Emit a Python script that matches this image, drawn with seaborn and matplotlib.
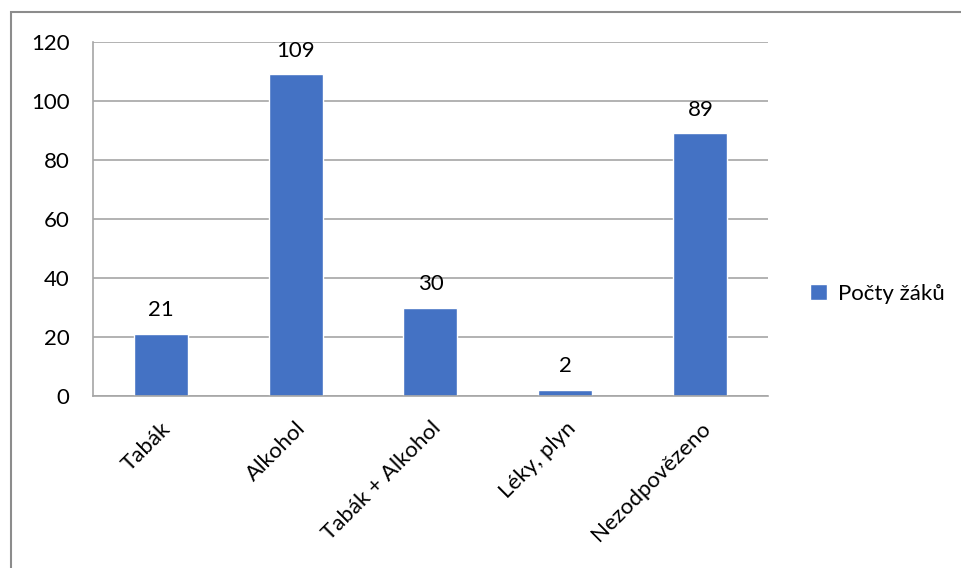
import matplotlib
matplotlib.use("Agg")
import matplotlib.pyplot as plt
import seaborn as sns
import pandas as pd
from matplotlib.patches import Rectangle

categories = ["Tabák", "Alkohol", "Tabák + Alkohol", "Léky, plyn", "Nezodpovězeno"]
counts = [21, 109, 30, 2, 89]
series_name = "Počty žáků"

df = pd.DataFrame({"kategorie": categories, "pocet": counts, "serie": series_name})

sns.set_style("white")
plt.rcParams["font.family"] = ["Lato", "DejaVu Sans"]
plt.rcParams["text.color"] = "black"
plt.rcParams["xtick.color"] = "black"
plt.rcParams["ytick.color"] = "black"

fig = plt.figure(figsize=(9.62, 5.68), dpi=100)
ax = fig.add_axes([93 / 962, 1 - 396 / 568, (768 - 93) / 962, (396 - 42) / 568])

sns.barplot(data=df, x="kategorie", y="pocet", hue="serie", palette=["#4472c4"],
            width=0.4, ax=ax, saturation=1)

grey = "#a6a6a6"
fs = 16
ax.set_ylim(0, 120)
ax.set_xlim(-0.5, len(categories) - 0.5)
ax.set_yticks(range(0, 121, 20))
ax.yaxis.grid(True, color=grey, linewidth=1.2)
ax.set_axisbelow(True)
for s in ["top", "right"]:
    ax.spines[s].set_visible(False)
for s in ["left", "bottom"]:
    ax.spines[s].set_color(grey)
    ax.spines[s].set_linewidth(1.2)

ax.set_xlabel("")
ax.set_ylabel("")
ax.tick_params(axis="y", length=7, color=grey, width=1.2, labelsize=fs, pad=10,
               labelcolor="black")
ax.tick_params(axis="x", which="major", length=0, labelsize=fs, pad=16,
               labelcolor="black")
ax.set_xticks([i - 0.5 for i in range(len(categories) + 1)], minor=True)
ax.tick_params(axis="x", which="minor", length=7, color=grey, width=1.2)
plt.setp(ax.get_xticklabels(), rotation=45, ha="right", rotation_mode="anchor")

for c in ax.containers:
    ax.bar_label(c, labels=[str(v) for v in counts], padding=10, fontsize=fs,
                 color="black")

leg = ax.legend(loc="center left", bbox_to_anchor=(790 / 962, 1 - 294 / 568),
                bbox_transform=fig.transFigure, frameon=False, fontsize=fs,
                handlelength=0.75, handleheight=0.75, handletextpad=0.5)

fig.add_artist(Rectangle((11 / 962, -0.2), 1.2, 0.2 + (1 - 12 / 568),
                         transform=fig.transFigure, fill=False,
                         edgecolor="#8c8c8c", linewidth=1.5))

fig.savefig("out.png", dpi=100)
